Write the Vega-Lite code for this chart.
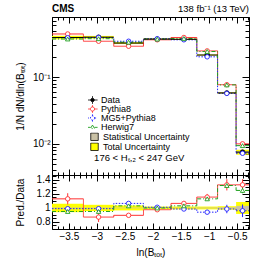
{
  "$schema": "https://vega.github.io/schema/vega-lite/v6.json",
  "padding": {"left": 14, "top": 3, "right": 0, "bottom": 0},
  "spacing": 0,
  "bounds": "flush",
  "config": {
    "font": "Liberation Sans",
    "view": {"stroke": "black", "strokeWidth": 1},
    "axis": {"domain": false, "grid": false, "tickColor": "black", "labelColor": "black", "titleColor": "black", "labelFontSize": 10, "titleFontSize": 10, "titleFontWeight": "normal", "labelFont": "Liberation Sans", "titleFont": "Liberation Sans"},
    "legend": {"labelFont": "Liberation Sans", "labelFontSize": 9, "labelColor": "black", "rowPadding": 0}
  },
  "datasets": {
    "d": [
      {"lo": -3.8, "hi": -3.24, "c": -3.52, "v": 0.394, "slo": 0.392, "shi": 0.396, "tlo": 0.37, "thi": 0.418, "rslo": 0.994, "rshi": 1.006, "rtlo": 0.94, "rthi": 1.06},
      {"lo": -3.24, "hi": -2.7, "c": -2.97, "v": 0.398, "slo": 0.396, "shi": 0.4, "tlo": 0.38, "thi": 0.416, "rslo": 0.995, "rshi": 1.005, "rtlo": 0.955, "rthi": 1.045},
      {"lo": -2.7, "hi": -2.17, "c": -2.435, "v": 0.325, "slo": 0.323, "shi": 0.327, "tlo": 0.314, "thi": 0.336, "rslo": 0.995, "rshi": 1.005, "rtlo": 0.965, "rthi": 1.035},
      {"lo": -2.17, "hi": -1.68, "c": -1.925, "v": 0.373, "slo": 0.372, "shi": 0.374, "tlo": 0.366, "thi": 0.38, "rslo": 0.996, "rshi": 1.004, "rtlo": 0.98, "rthi": 1.02},
      {"lo": -1.68, "hi": -1.22, "c": -1.45, "v": 0.37, "slo": 0.369, "shi": 0.371, "tlo": 0.363, "thi": 0.377, "rslo": 0.996, "rshi": 1.004, "rtlo": 0.98, "rthi": 1.02},
      {"lo": -1.22, "hi": -0.85, "c": -1.035, "v": 0.215, "slo": 0.2137, "shi": 0.2163, "tlo": 0.211, "thi": 0.219, "rslo": 0.994, "rshi": 1.006, "rtlo": 0.98, "rthi": 1.02},
      {"lo": -0.85, "hi": -0.52, "c": -0.685, "v": 0.058, "slo": 0.0574, "shi": 0.0586, "tlo": 0.0566, "thi": 0.0595, "rslo": 0.99, "rshi": 1.01, "rtlo": 0.975, "rthi": 1.025},
      {"lo": -0.52, "hi": -0.29, "c": -0.405, "v": 0.0075, "slo": 0.00728, "shi": 0.00773, "tlo": 0.00686, "thi": 0.00814, "rslo": 0.97, "rshi": 1.03, "rtlo": 0.915, "rthi": 1.085}
    ],
    "p": [
      {"s": "Data", "lo": -3.8, "hi": -3.24, "c": -3.52, "v": 0.394, "r": 1, "rlo": 1, "rhi": 1},
      {"s": "Data", "lo": -3.24, "hi": -2.7, "c": -2.97, "v": 0.398, "r": 1, "rlo": 1, "rhi": 1},
      {"s": "Data", "lo": -2.7, "hi": -2.17, "c": -2.435, "v": 0.325, "r": 1, "rlo": 1, "rhi": 1},
      {"s": "Data", "lo": -2.17, "hi": -1.68, "c": -1.925, "v": 0.373, "r": 1, "rlo": 1, "rhi": 1},
      {"s": "Data", "lo": -1.68, "hi": -1.22, "c": -1.45, "v": 0.37, "r": 1, "rlo": 1, "rhi": 1},
      {"s": "Data", "lo": -1.22, "hi": -0.85, "c": -1.035, "v": 0.215, "r": 1, "rlo": 1, "rhi": 1},
      {"s": "Data", "lo": -0.85, "hi": -0.52, "c": -0.685, "v": 0.058, "r": 1, "rlo": 1, "rhi": 1},
      {"s": "Data", "lo": -0.52, "hi": -0.29, "c": -0.405, "v": 0.0075, "r": 1, "rlo": 1, "rhi": 1},
      {"s": "Pythia8", "lo": -3.8, "hi": -3.24, "c": -3.52, "v": 0.445, "r": 1.13, "rlo": 1.05, "rhi": 1.21},
      {"s": "Pythia8", "lo": -3.24, "hi": -2.7, "c": -2.97, "v": 0.346, "r": 0.87, "rlo": 0.8, "rhi": 0.94},
      {"s": "Pythia8", "lo": -2.7, "hi": -2.17, "c": -2.435, "v": 0.291, "r": 0.895, "rlo": 0.88, "rhi": 0.91},
      {"s": "Pythia8", "lo": -2.17, "hi": -1.68, "c": -1.925, "v": 0.364, "r": 0.975, "rlo": 0.965, "rhi": 0.985},
      {"s": "Pythia8", "lo": -1.68, "hi": -1.22, "c": -1.45, "v": 0.394, "r": 1.065, "rlo": 1.04, "rhi": 1.09},
      {"s": "Pythia8", "lo": -1.22, "hi": -0.85, "c": -1.035, "v": 0.248, "r": 1.155, "rlo": 1.11, "rhi": 1.2},
      {"s": "Pythia8", "lo": -0.85, "hi": -0.52, "c": -0.685, "v": 0.0771, "r": 1.33, "rlo": 1.25, "rhi": 1.41},
      {"s": "Pythia8", "lo": -0.52, "hi": -0.29, "c": -0.405, "v": 0.00998, "r": 1.33, "rlo": 1.25, "rhi": 1.41},
      {"s": "MG5+Pythia8", "lo": -3.8, "hi": -3.24, "c": -3.52, "v": 0.39, "r": 0.99, "rlo": 0.98, "rhi": 1.0},
      {"s": "MG5+Pythia8", "lo": -3.24, "hi": -2.7, "c": -2.97, "v": 0.394, "r": 0.99, "rlo": 0.98, "rhi": 1.0},
      {"s": "MG5+Pythia8", "lo": -2.7, "hi": -2.17, "c": -2.435, "v": 0.346, "r": 1.065, "rlo": 1.055, "rhi": 1.075},
      {"s": "MG5+Pythia8", "lo": -2.17, "hi": -1.68, "c": -1.925, "v": 0.377, "r": 1.01, "rlo": 1.0, "rhi": 1.02},
      {"s": "MG5+Pythia8", "lo": -1.68, "hi": -1.22, "c": -1.45, "v": 0.364, "r": 0.985, "rlo": 0.965, "rhi": 1.005},
      {"s": "MG5+Pythia8", "lo": -1.22, "hi": -0.85, "c": -1.035, "v": 0.202, "r": 0.94, "rlo": 0.91, "rhi": 0.97},
      {"s": "MG5+Pythia8", "lo": -0.85, "hi": -0.52, "c": -0.685, "v": 0.0571, "r": 0.985, "rlo": 0.925, "rhi": 1.045},
      {"s": "MG5+Pythia8", "lo": -0.52, "hi": -0.29, "c": -0.405, "v": 0.0072, "r": 0.96, "rlo": 0.87, "rhi": 1.05},
      {"s": "Herwig7", "lo": -3.8, "hi": -3.24, "c": -3.52, "v": 0.374, "r": 0.95, "rlo": 0.94, "rhi": 0.96},
      {"s": "Herwig7", "lo": -3.24, "hi": -2.7, "c": -2.97, "v": 0.378, "r": 0.95, "rlo": 0.94, "rhi": 0.96},
      {"s": "Herwig7", "lo": -2.7, "hi": -2.17, "c": -2.435, "v": 0.335, "r": 1.03, "rlo": 1.02, "rhi": 1.04},
      {"s": "Herwig7", "lo": -2.17, "hi": -1.68, "c": -1.925, "v": 0.373, "r": 1.0, "rlo": 0.99, "rhi": 1.01},
      {"s": "Herwig7", "lo": -1.68, "hi": -1.22, "c": -1.45, "v": 0.381, "r": 1.03, "rlo": 1.02, "rhi": 1.04},
      {"s": "Herwig7", "lo": -1.22, "hi": -0.85, "c": -1.035, "v": 0.243, "r": 1.13, "rlo": 1.11, "rhi": 1.15},
      {"s": "Herwig7", "lo": -0.85, "hi": -0.52, "c": -0.685, "v": 0.0766, "r": 1.32, "rlo": 1.29, "rhi": 1.35},
      {"s": "Herwig7", "lo": -0.52, "hi": -0.29, "c": -0.405, "v": 0.00938, "r": 1.25, "rlo": 1.21, "rhi": 1.29}
    ],
    "lab": [
      {"t": "CMS", "x": -3.8, "y": 0.8},
      {"t": "138 fb⁻¹ (13 TeV)", "x": -0.29, "y": 0.8},
      {"t": "176 < Hₜ,₂ < 247 GeV", "x": -3.05, "y": 0.0061}
    ]
  },
  "resolve": {"scale": {"stroke": "independent", "shape": "independent", "fill": "independent", "strokeDash": "independent", "color": "independent"}},
  "vconcat": [
    {
      "width": 197,
      "height": 158,
      "resolve": {"axis": {"x": "independent", "y": "independent"}},
      "layer": [
        {
          "data": {"name": "d"},
          "mark": {"type": "rect"},
          "encoding": {
            "x": {"field": "lo", "type": "quantitative", "scale": {"domain": [-3.8, -0.29], "nice": false, "zero": false},
              "axis": {"orient": "bottom", "labels": false, "title": null,
                "values": [-3.8,-3.7,-3.6,-3.5,-3.4,-3.3,-3.2,-3.1,-3.0,-2.9,-2.8,-2.7,-2.6,-2.5,-2.4,-2.3,-2.2,-2.1,-2.0,-1.9,-1.8,-1.7,-1.6,-1.5,-1.4,-1.3,-1.2,-1.1,-1.0,-0.9,-0.8,-0.7,-0.6,-0.5,-0.4,-0.3],
                "tickSize": {"condition": {"test": "abs(datum.value*2 - round(datum.value*2)) < 0.001", "value": -6}, "value": -3}}},
            "x2": {"field": "hi"},
            "y": {"field": "tlo", "type": "quantitative", "scale": {"type": "log", "domain": [0.0034, 0.8], "nice": false},
              "axis": {"orient": "left", "title": "1/N dN/dln(Bₜₒₜ)", "titleX": -27,
                "values": [0.004,0.005,0.006,0.007,0.008,0.009,0.01,0.02,0.03,0.04,0.05,0.06,0.07,0.08,0.09,0.1,0.2,0.3,0.4,0.5,0.6,0.7,0.8],
                "labelExpr": "datum.value == 0.1 ? '10⁻¹' : datum.value == 0.01 ? '10⁻²' : ''",
                "labelPadding": 9,
                "tickSize": {"condition": {"test": "datum.value == 0.1 || datum.value == 0.01", "value": -7}, "value": -4}}},
            "y2": {"field": "thi"},
            "color": {"datum": "Total Uncertainty", "type": "nominal",
              "scale": {"domain": ["Statistical Uncertainty", "Total Uncertainty"], "range": ["#c9c1a5", "#ffff00"]},
              "legend": {"orient": "none", "legendX": 38, "legendY": 115.5, "title": null, "symbolType": "square", "symbolSize": 56, "symbolStrokeColor": "black", "symbolStrokeWidth": 0.8, "labelOffset": 4, "rowPadding": 0, "clipHeight": 8.5}}
          }
        },
        {
          "data": {"name": "d"},
          "mark": {"type": "rect"},
          "encoding": {
            "x": {"field": "lo", "type": "quantitative", "axis": null},
            "x2": {"field": "hi"},
            "y": {"field": "slo", "type": "quantitative", "axis": null},
            "y2": {"field": "shi"},
            "color": {"datum": "Statistical Uncertainty", "type": "nominal"}
          }
        },
        {
          "data": {"name": "p"},
          "transform": [{"filter": "datum.s != 'Data'"}],
          "mark": {"type": "line", "interpolate": "step-after", "strokeWidth": 1},
          "encoding": {
            "x": {"field": "lo", "type": "quantitative", "axis": null},
            "y": {"field": "v", "type": "quantitative", "axis": null},
            "stroke": {"field": "s", "type": "nominal"},
            "strokeDash": {"field": "s", "type": "nominal"}
          }
        },
        {
          "data": {"name": "p"},
          "transform": [{"filter": "datum.s != 'Data' && datum.hi > -0.3"}],
          "mark": {"type": "rule", "strokeWidth": 1},
          "encoding": {
            "x": {"field": "lo", "type": "quantitative", "axis": null},
            "x2": {"field": "hi"},
            "y": {"field": "v", "type": "quantitative", "axis": null},
            "stroke": {"field": "s", "type": "nominal"},
            "strokeDash": {"field": "s", "type": "nominal"}
          }
        },
        {
          "data": {"name": "d"},
          "mark": {"type": "rule", "color": "black", "strokeWidth": 1},
          "encoding": {
            "x": {"field": "lo", "type": "quantitative", "axis": null},
            "x2": {"field": "hi"},
            "y": {"field": "v", "type": "quantitative", "axis": null}
          }
        },
        {
          "data": {"name": "p"},
          "transform": [{"filter": "datum.s != 'Herwig7'"}],
          "mark": {"type": "point", "strokeWidth": 0.9, "opacity": 1, "shape": "circle"},
          "encoding": {
            "x": {"field": "c", "type": "quantitative", "axis": null},
            "y": {"field": "v", "type": "quantitative", "axis": null},
            "stroke": {"field": "s", "type": "nominal"},
            "fill": {"field": "s", "type": "nominal"},
            "size": {"value": 20}
          }
        },
        {
          "data": {"name": "p"},
          "transform": [{"filter": "datum.s == 'Herwig7'"}],
          "mark": {"type": "point", "strokeWidth": 0.9, "opacity": 1, "shape": "triangle-up"},
          "encoding": {
            "x": {"field": "c", "type": "quantitative", "axis": null},
            "y": {"field": "v", "type": "quantitative", "axis": null},
            "stroke": {"field": "s", "type": "nominal"},
            "fill": {"field": "s", "type": "nominal"},
            "size": {"value": 20}
          }
        },
        {
          "data": {"name": "p"},
          "transform": [{"filter": "false"}],
          "mark": {"type": "point", "opacity": 1},
          "encoding": {
            "x": {"field": "c", "type": "quantitative", "axis": null},
            "y": {"field": "v", "type": "quantitative", "axis": null},
            "stroke": {"field": "s", "type": "nominal",
              "scale": {"domain": ["Data", "Pythia8", "MG5+Pythia8", "Herwig7"], "range": ["black", "#ff3030", "#2020ff", "#20a020"]},
              "legend": {"orient": "none", "legendX": 36, "legendY": 79, "title": null, "symbolSize": 49, "symbolStrokeWidth": 0.9, "symbolOpacity": 1, "labelOffset": 4, "rowPadding": 0, "clipHeight": 8}},
            "shape": {"field": "s", "type": "nominal",
              "scale": {"domain": ["Data", "Pythia8", "MG5+Pythia8", "Herwig7"],
                "range": [
                  "M-1.45,0L-0.5,0M0.5,0L1.45,0M0,-0.5L0,-1.1M0,0.5L0,1.1M0.5,0A0.5,0.5,0,1,1,-0.5,0A0.5,0.5,0,1,1,0.5,0",
                  "M-1.45,0L-0.6,0M0.6,0L1.45,0M0,-0.6L0,-1.1M0,0.6L0,1.1M0.6,0A0.6,0.6,0,1,1,-0.6,0A0.6,0.6,0,1,1,0.6,0",
                  "M-1.45,0L-0.6,0M0.6,0L1.45,0M0,-0.6L0,-1.1M0,0.6L0,1.1M0.6,0A0.6,0.6,0,1,1,-0.6,0A0.6,0.6,0,1,1,0.6,0",
                  "M-1.45,0.1L-0.55,0.1M0.55,0.1L1.45,0.1M0,-0.55L0.6,0.45L-0.6,0.45Z"
                ]}},
            "fill": {"field": "s", "type": "nominal",
              "scale": {"domain": ["Data", "Pythia8", "MG5+Pythia8", "Herwig7"], "range": ["black", "white", "white", "white"]}},
            "strokeDash": {"field": "s", "type": "nominal",
              "scale": {"domain": ["Data", "Pythia8", "MG5+Pythia8", "Herwig7"], "range": [[1, 0], [1, 0], [1.5, 1.5], [4, 2, 1, 2]]}}
          }
        },
        {
          "data": {"name": "lab"},
          "transform": [{"filter": "datum.t == 'CMS'"}],
          "mark": {"type": "text", "align": "left", "baseline": "bottom", "dy": -3, "fontSize": 10, "fontWeight": "bold"},
          "encoding": {
            "x": {"field": "x", "type": "quantitative",
              "axis": {"orient": "top", "labels": false, "title": null,
                "values": [-3.8,-3.7,-3.6,-3.5,-3.4,-3.3,-3.2,-3.1,-3.0,-2.9,-2.8,-2.7,-2.6,-2.5,-2.4,-2.3,-2.2,-2.1,-2.0,-1.9,-1.8,-1.7,-1.6,-1.5,-1.4,-1.3,-1.2,-1.1,-1.0,-0.9,-0.8,-0.7,-0.6,-0.5,-0.4,-0.3],
                "tickSize": {"condition": {"test": "abs(datum.value*2 - round(datum.value*2)) < 0.001", "value": -6}, "value": -3}}},
            "y": {"field": "y", "type": "quantitative",
              "axis": {"orient": "right", "labels": false, "title": null,
                "values": [0.004,0.005,0.006,0.007,0.008,0.009,0.01,0.02,0.03,0.04,0.05,0.06,0.07,0.08,0.09,0.1,0.2,0.3,0.4,0.5,0.6,0.7,0.8],
                "tickSize": {"condition": {"test": "datum.value == 0.1 || datum.value == 0.01", "value": -7}, "value": -4}}},
            "text": {"field": "t"}
          }
        },
        {
          "data": {"name": "lab"},
          "transform": [{"filter": "datum.t == '138 fb⁻¹ (13 TeV)'"}],
          "mark": {"type": "text", "align": "right", "baseline": "bottom", "dy": -3, "fontSize": 9.5},
          "encoding": {
            "x": {"field": "x", "type": "quantitative", "axis": null},
            "y": {"field": "y", "type": "quantitative", "axis": null},
            "text": {"field": "t"}
          }
        },
        {
          "data": {"name": "lab"},
          "transform": [{"filter": "datum.y < 0.1"}],
          "mark": {"type": "text", "align": "left", "baseline": "middle", "fontSize": 9.5},
          "encoding": {
            "x": {"field": "x", "type": "quantitative", "axis": null},
            "y": {"field": "y", "type": "quantitative", "axis": null},
            "text": {"field": "t"}
          }
        }
      ]
    },
    {
      "width": 197,
      "height": 54,
      "resolve": {"axis": {"x": "independent", "y": "independent"}},
      "layer": [
        {
          "data": {"name": "d"},
          "mark": {"type": "rect", "color": "#ffff00"},
          "encoding": {
            "x": {"field": "lo", "type": "quantitative", "scale": {"domain": [-3.8, -0.29], "nice": false, "zero": false},
              "axis": {"orient": "bottom", "title": "ln(Bₜₒₜ)", "titlePadding": 6, "format": "~g",
                "values": [-3.8,-3.7,-3.6,-3.5,-3.4,-3.3,-3.2,-3.1,-3.0,-2.9,-2.8,-2.7,-2.6,-2.5,-2.4,-2.3,-2.2,-2.1,-2.0,-1.9,-1.8,-1.7,-1.6,-1.5,-1.4,-1.3,-1.2,-1.1,-1.0,-0.9,-0.8,-0.7,-0.6,-0.5,-0.4,-0.3],
                "labelExpr": "abs(datum.value*2 - round(datum.value*2)) < 0.001 ? datum.label : ''",
                "labelPadding": 8,
                "tickSize": {"condition": {"test": "abs(datum.value*2 - round(datum.value*2)) < 0.001", "value": -6}, "value": -3}}},
            "x2": {"field": "hi"},
            "y": {"field": "rtlo", "type": "quantitative", "scale": {"domain": [0.7, 1.47], "nice": false, "zero": false},
              "axis": {"orient": "left", "title": "Pred./Data", "titleX": -27, "format": "~g",
                "values": [0.75,0.8,0.85,0.9,0.95,1.0,1.05,1.1,1.15,1.2,1.25,1.3,1.35,1.4,1.45],
                "labelExpr": "abs(datum.value*5 - round(datum.value*5)) < 0.001 ? datum.label : ''",
                "labelPadding": 9,
                "tickSize": {"condition": {"test": "abs(datum.value*5 - round(datum.value*5)) < 0.001", "value": -7}, "value": -4}}},
            "y2": {"field": "rthi"}
          }
        },
        {
          "data": {"name": "d"},
          "mark": {"type": "rect", "color": "#c9c1a5"},
          "encoding": {
            "x": {"field": "lo", "type": "quantitative", "axis": null},
            "x2": {"field": "hi"},
            "y": {"field": "rslo", "type": "quantitative", "axis": null},
            "y2": {"field": "rshi"}
          }
        },
        {
          "mark": {"type": "rule", "color": "black", "strokeWidth": 1},
          "encoding": {"y": {"datum": 1, "type": "quantitative", "axis": null}}
        },
        {
          "data": {"name": "p"},
          "transform": [{"filter": "datum.s != 'Data'"}],
          "mark": {"type": "line", "interpolate": "step-after", "strokeWidth": 1},
          "encoding": {
            "x": {"field": "lo", "type": "quantitative", "axis": null},
            "y": {"field": "r", "type": "quantitative", "axis": null},
            "stroke": {"field": "s", "type": "nominal", "legend": null,
              "scale": {"domain": ["Data", "Pythia8", "MG5+Pythia8", "Herwig7"], "range": ["black", "#ff3030", "#2020ff", "#20a020"]}},
            "strokeDash": {"field": "s", "type": "nominal", "legend": null,
              "scale": {"domain": ["Data", "Pythia8", "MG5+Pythia8", "Herwig7"], "range": [[1, 0], [1, 0], [1.5, 1.5], [4, 2, 1, 2]]}}
          }
        },
        {
          "data": {"name": "p"},
          "transform": [{"filter": "datum.s != 'Data' && datum.hi > -0.3"}],
          "mark": {"type": "rule", "strokeWidth": 1},
          "encoding": {
            "x": {"field": "lo", "type": "quantitative", "axis": null},
            "x2": {"field": "hi"},
            "y": {"field": "r", "type": "quantitative", "axis": null},
            "stroke": {"field": "s", "type": "nominal", "legend": null},
            "strokeDash": {"field": "s", "type": "nominal", "legend": null}
          }
        },
        {
          "data": {"name": "p"},
          "transform": [{"filter": "datum.s != 'Data'"}],
          "mark": {"type": "rule", "strokeWidth": 1},
          "encoding": {
            "x": {"field": "c", "type": "quantitative", "axis": null},
            "y": {"field": "rlo", "type": "quantitative", "axis": null},
            "y2": {"field": "rhi"},
            "stroke": {"field": "s", "type": "nominal", "legend": null}
          }
        },
        {
          "data": {"name": "p"},
          "transform": [{"filter": "datum.s != 'Data'"}],
          "mark": {"type": "point", "strokeWidth": 0.9, "opacity": 1, "fill": "white", "filled": false},
          "encoding": {
            "x": {"field": "c", "type": "quantitative",
              "axis": {"orient": "top", "labels": false, "title": null,
                "values": [-3.8,-3.7,-3.6,-3.5,-3.4,-3.3,-3.2,-3.1,-3.0,-2.9,-2.8,-2.7,-2.6,-2.5,-2.4,-2.3,-2.2,-2.1,-2.0,-1.9,-1.8,-1.7,-1.6,-1.5,-1.4,-1.3,-1.2,-1.1,-1.0,-0.9,-0.8,-0.7,-0.6,-0.5,-0.4,-0.3],
                "tickSize": {"condition": {"test": "abs(datum.value*2 - round(datum.value*2)) < 0.001", "value": -6}, "value": -3}}},
            "y": {"field": "r", "type": "quantitative",
              "axis": {"orient": "right", "labels": false, "title": null,
                "values": [0.75,0.8,0.85,0.9,0.95,1.0,1.05,1.1,1.15,1.2,1.25,1.3,1.35,1.4,1.45],
                "tickSize": {"condition": {"test": "abs(datum.value*5 - round(datum.value*5)) < 0.001", "value": -7}, "value": -4}}},
            "stroke": {"field": "s", "type": "nominal", "legend": null},
            "shape": {"field": "s", "type": "nominal", "legend": null,
              "scale": {"domain": ["Data", "Pythia8", "MG5+Pythia8", "Herwig7"], "range": ["circle", "circle", "circle", "triangle-up"]}},
            "size": {"value": 20}
          }
        }
      ]
    }
  ]
}
